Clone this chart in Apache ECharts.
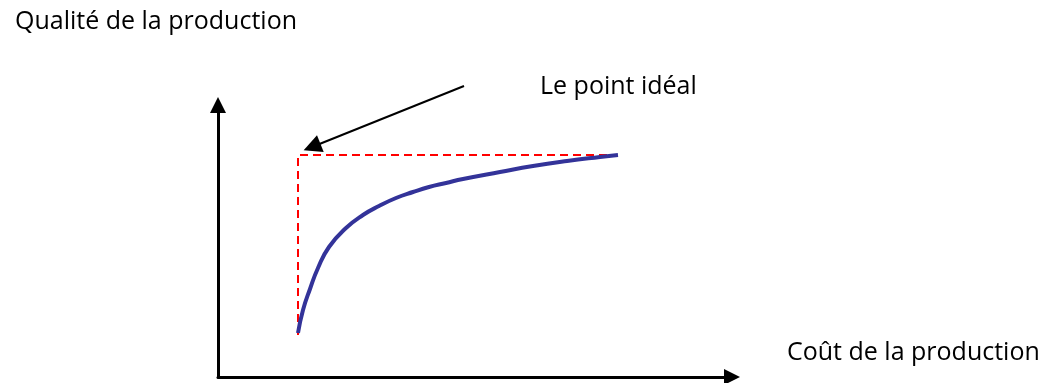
<!DOCTYPE html>
<html>
<head>
<meta charset="utf-8">
<script src="https://cdn.jsdelivr.net/npm/echarts@6/dist/echarts.min.js"></script>
<style>
  html, body { margin: 0; padding: 0; background: #fff; }
  #chart { width: 1052px; height: 383px; }
</style>
</head>
<body>
<div id="chart"></div>
<script>
  // courbe qualité / coût (unités)
  var cost = [80, 85, 92, 100, 111, 128, 145, 161, 178, 195, 211, 228, 245, 282, 315, 349, 382, 400];
  var quality = [44, 67, 88, 109, 130, 149, 162, 171, 179, 185, 190, 194, 198, 205, 211, 216, 220, 222];

  // le point idéal : coût minimal, qualité maximale
  var idealGuide = [[80, 42], [80, 222], [398, 222]];
  // flèche d'annotation
  var pointer = [[246, 291], [94, 230]];

  var labels = {
    yName: 'Qualité de la production',
    xName: 'Coût de la production',
    ideal: 'Le point idéal'
  };

  var font = '"Open Sans", sans-serif';

  var chart = echarts.init(document.getElementById('chart'));

  chart.setOption({
    animation: false,
    backgroundColor: '#fff',
    grid: { left: 218, right: 320, top: 105, bottom: 6, containLabel: false },
    xAxis: {
      type: 'value',
      min: 0,
      max: 514,
      axisLine: {
        show: true,
        lineStyle: { color: '#000', width: 3 },
        symbol: ['none', 'triangle'],
        symbolSize: [16, 16]
      },
      axisTick: { show: false },
      axisLabel: { show: false },
      splitLine: { show: false }
    },
    yAxis: {
      type: 'value',
      min: 0,
      max: 272,
      axisLine: {
        show: true,
        lineStyle: { color: '#000', width: 3 },
        symbol: ['none', 'triangle'],
        symbolSize: [16, 16]
      },
      axisTick: { show: false },
      axisLabel: { show: false },
      splitLine: { show: false }
    },
    series: [
      {
        type: 'line',
        data: idealGuide,
        symbol: 'none',
        lineStyle: { color: '#ff0000', width: 2, type: [8, 5] },
        z: 2
      },
      {
        type: 'line',
        data: cost.map(function (c, i) { return [c, quality[i]]; }),
        symbol: 'none',
        smooth: 0.5,
        lineStyle: { color: '#333399', width: 4 },
        z: 3
      },
      {
        type: 'lines',
        coordinateSystem: 'cartesian2d',
        clip: false,
        polyline: false,
        symbol: ['none', 'triangle'],
        symbolSize: [15, 18],
        lineStyle: { color: '#000', width: 2, opacity: 1 },
        data: [{ coords: pointer }],
        z: 4
      }
    ],
    graphic: [
      {
        type: 'text', left: 15, top: 9,
        style: { text: labels.yName, font: '25px ' + font, fill: '#000' }
      },
      {
        type: 'text', left: 540, top: 74,
        style: { text: labels.ideal, font: '25px ' + font, fill: '#000' }
      },
      {
        type: 'text', left: 787, top: 340,
        style: { text: labels.xName, font: '25px ' + font, fill: '#000' }
      }
    ]
  });
</script>
</body>
</html>
